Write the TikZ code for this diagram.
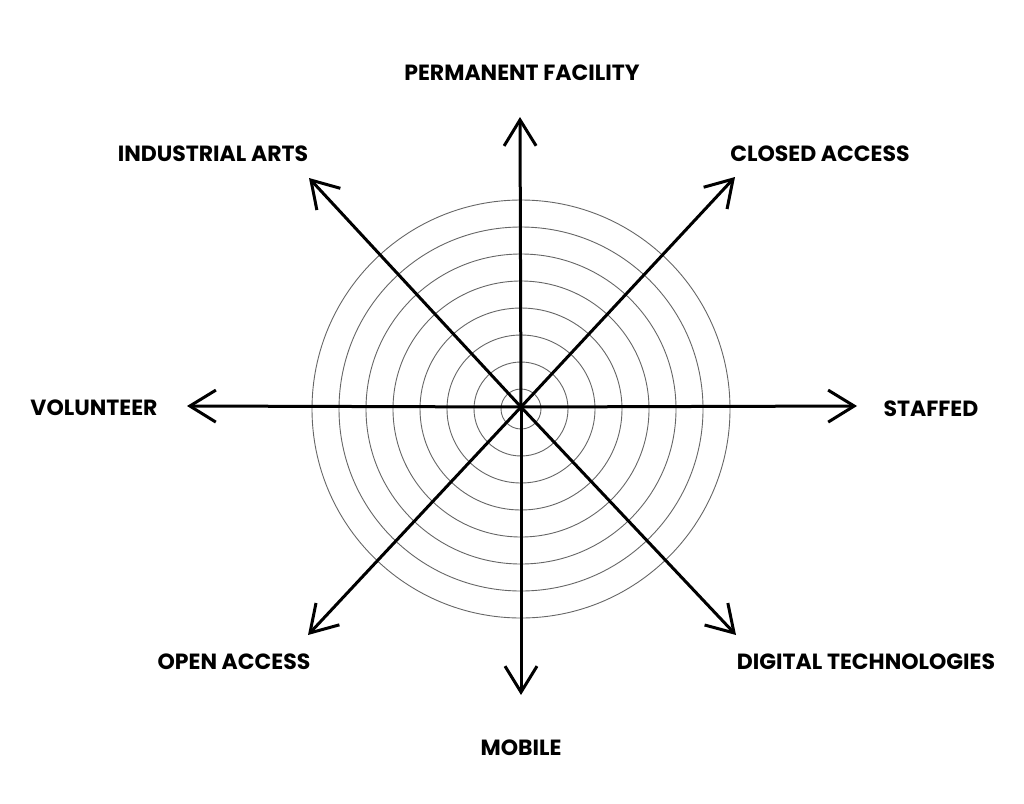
\documentclass[tikz,border=0pt]{standalone}
\usepackage{fontspec}
\setmainfont{Poppins}
\usepackage{tikz}
\usetikzlibrary{arrows.meta}
\tikzstyle{arrow} = [line width=3pt,-{Straight Barb[length=26pt,width=32pt,line width=3pt]}]

\begin{document}
\begin{tikzpicture}[x=1pt,y=-1pt,
    ring/.style={draw=black!60, line width=0.9pt},
    axislabel/.style={font=\fontsize{22}{22}\selectfont\bfseries, inner sep=0pt}]
    \useasboundingbox (0,0) rectangle (1024,803);
    \coordinate (centre) at (521,407);
    % rings
    \foreach \r in {0,...,7}
        \draw[ring] (521,409) circle ({20+27*\r});
    % tips
    \coordinate (tipN)  at (520,117);
    \coordinate (tipS)  at (521,695);
    \coordinate (tipW)  at (187,406);
    \coordinate (tipE)  at (857,406);
    \coordinate (tipNW) at (309,178);
    \coordinate (tipNE) at (735,177);
    \coordinate (tipSW) at (308,635);
    \coordinate (tipSE) at (736,635);
    % labels
    \node[axislabel] (permanent) at (522,73)  {PERMANENT FACILITY};
    \node[axislabel] (industrial) at (213,154) {INDUSTRIAL ARTS};
    \node[axislabel] (closed) at (820,154) {CLOSED ACCESS};
    \node[axislabel] (volunteer) at (94,408) {VOLUNTEER};
    \node[axislabel] (staffed) at (931,409) {STAFFED};
    \node[axislabel] (open) at (234,662) {OPEN ACCESS};
    \node[axislabel] (digital) at (866,662) {DIGITAL TECHNOLOGIES};
    \node[axislabel] (mobile) at (521,748) {MOBILE};
    % axes
    \foreach \t in {N,S,W,E,NW,NE,SW,SE}
        \draw[arrow] (centre) -- (tip\t);
\end{tikzpicture}
\end{document}
